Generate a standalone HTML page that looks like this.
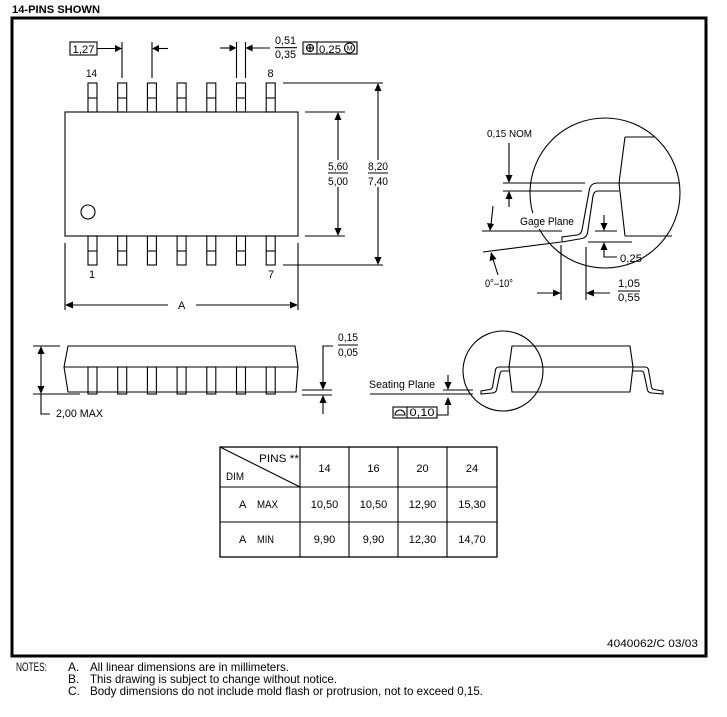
<!DOCTYPE html>
<html><head><meta charset="utf-8"><style>
html,body{margin:0;padding:0;background:#fff;}
svg{display:block;}
text{font-family:"Liberation Sans",sans-serif;font-size:11px;fill:#000;}
</style></head><body>
<svg width="727" height="717" viewBox="0 0 727 717" xmlns="http://www.w3.org/2000/svg">
<rect width="727" height="717" fill="#fff"/>
<text x="12" y="13" style="font-weight:bold" textLength="88" lengthAdjust="spacingAndGlyphs">14-PINS SHOWN</text>
<rect x="12" y="18" width="694" height="638" fill="none" stroke="#000" stroke-width="3"/>

<g fill="none" stroke="#000" stroke-width="1.1">
<!-- top view body -->
<rect x="65" y="112" width="233" height="124"/>
<circle cx="88" cy="212" r="7"/>
<!-- top pins -->
<rect x="88" y="83" width="9" height="29"/><line x1="88" y1="98" x2="97" y2="98"/>
<rect x="117.7" y="83" width="9" height="29"/><line x1="117.7" y1="98" x2="126.7" y2="98"/>
<rect x="147.4" y="83" width="9" height="29"/><line x1="147.4" y1="98" x2="156.4" y2="98"/>
<rect x="177.1" y="83" width="9" height="29"/><line x1="177.1" y1="98" x2="186.1" y2="98"/>
<rect x="206.8" y="83" width="9" height="29"/><line x1="206.8" y1="98" x2="215.8" y2="98"/>
<rect x="236.5" y="83" width="9" height="29"/><line x1="236.5" y1="98" x2="245.5" y2="98"/>
<rect x="266.2" y="83" width="9" height="29"/><line x1="266.2" y1="98" x2="275.2" y2="98"/>
<!-- bottom pins -->
<rect x="88" y="236" width="9" height="29"/><line x1="88" y1="251" x2="97" y2="251"/>
<rect x="117.7" y="236" width="9" height="29"/><line x1="117.7" y1="251" x2="126.7" y2="251"/>
<rect x="147.4" y="236" width="9" height="29"/><line x1="147.4" y1="251" x2="156.4" y2="251"/>
<rect x="177.1" y="236" width="9" height="29"/><line x1="177.1" y1="251" x2="186.1" y2="251"/>
<rect x="206.8" y="236" width="9" height="29"/><line x1="206.8" y1="251" x2="215.8" y2="251"/>
<rect x="236.5" y="236" width="9" height="29"/><line x1="236.5" y1="251" x2="245.5" y2="251"/>
<rect x="266.2" y="236" width="9" height="29"/><line x1="266.2" y1="251" x2="275.2" y2="251"/>

<!-- 1,27 dim -->
<rect x="70" y="42" width="27" height="13"/>
<line x1="97" y1="48.5" x2="116" y2="48.5"/>
<line x1="122" y1="42" x2="122" y2="78"/>
<line x1="152" y1="42" x2="152" y2="78"/>
<line x1="158" y1="48.5" x2="168" y2="48.5"/>
<!-- pin width dim -->
<line x1="236.5" y1="42" x2="236.5" y2="78"/>
<line x1="245.5" y1="42" x2="245.5" y2="78"/>
<line x1="220" y1="48" x2="231" y2="48"/>
<line x1="251" y1="48" x2="270" y2="48"/>
<line x1="275" y1="47.7" x2="297" y2="47.7"/>
<!-- position tolerance box -->
<rect x="303" y="42" width="54" height="12"/>
<line x1="317" y1="42" x2="317" y2="54"/>
<circle cx="310" cy="48" r="3.5"/>
<line x1="306" y1="48" x2="314" y2="48"/><line x1="310" y1="44" x2="310" y2="52"/>
<circle cx="349.5" cy="48" r="5"/>

<!-- right dims top view -->
<line x1="305" y1="112" x2="345" y2="112"/>
<line x1="305" y1="236" x2="345" y2="236"/>
<line x1="338" y1="118" x2="338" y2="160"/>
<line x1="338" y1="187" x2="338" y2="230"/>
<line x1="328" y1="173" x2="348" y2="173"/>
<line x1="283" y1="83" x2="383" y2="83"/>
<line x1="283" y1="265" x2="383" y2="265"/>
<line x1="378" y1="89" x2="378" y2="160"/>
<line x1="378" y1="187" x2="378" y2="259"/>
<line x1="368" y1="173" x2="388" y2="173"/>
<!-- A dim -->
<line x1="65" y1="243" x2="65" y2="310"/>
<line x1="298" y1="243" x2="298" y2="310"/>
<line x1="71" y1="305" x2="168" y2="305"/>
<line x1="196" y1="305" x2="292" y2="305"/>

<!-- gage detail -->
<circle cx="605" cy="193" r="75"/>
<line x1="625" y1="137" x2="654" y2="137"/>
<polyline points="625,137 619,183 625,236"/>
<line x1="625" y1="236" x2="672" y2="236"/>
<line x1="598" y1="183" x2="679" y2="183"/>
<path d="M598,183 Q591,183 589.5,189 L582,230 Q581,234.5 577,235 L562,237 L562,242 L582,238.5 Q586.5,237.5 587.5,233 L593,196 Q594,191 598,191 L619,191"/>
<line x1="503" y1="183" x2="585" y2="183"/>
<line x1="503" y1="191" x2="582" y2="191"/>
<line x1="509" y1="143" x2="509" y2="177"/>
<line x1="509" y1="197" x2="509" y2="207"/>
<line x1="482" y1="231" x2="562" y2="231"/>
<line x1="493" y1="206" x2="491" y2="225"/>
<line x1="483" y1="252" x2="561" y2="242"/>
<line x1="498" y1="275" x2="493" y2="259"/>
<line x1="595" y1="231" x2="617" y2="231"/>
<line x1="588" y1="242" x2="632" y2="242"/>
<line x1="604" y1="215" x2="604" y2="225"/>
<polyline points="604,248 604,257 617,257"/>
<line x1="561" y1="245" x2="561" y2="300"/>
<line x1="586" y1="247" x2="586" y2="300"/>
<line x1="537" y1="293" x2="555" y2="293"/>
<line x1="592" y1="293" x2="610" y2="293"/>
<line x1="618" y1="291" x2="640" y2="291"/>

<!-- side view left -->
<path d="M68,346 L295,346 L298,367 L296,392 L68,392 L64,367 Z"/>
<line x1="64" y1="367" x2="298" y2="367"/>
<rect x="88" y="367" width="9" height="27"/>
<rect x="117.7" y="367" width="9" height="27"/>
<rect x="147.4" y="367" width="9" height="27"/>
<rect x="177.1" y="367" width="9" height="27"/>
<rect x="206.8" y="367" width="9" height="27"/>
<rect x="236.5" y="367" width="9" height="27"/>
<rect x="266.2" y="367" width="9" height="27"/>
<line x1="33" y1="346" x2="60" y2="346"/>
<line x1="33" y1="394" x2="80" y2="394"/>
<line x1="41" y1="352" x2="41" y2="388"/>
<polyline points="41,394 41,414 50,414"/>
<line x1="302" y1="390" x2="332" y2="390"/>
<line x1="302" y1="395" x2="332" y2="395"/>
<polyline points="333,346 323,346 323,384"/>
<line x1="323" y1="401" x2="323" y2="414"/>
<line x1="338" y1="345" x2="358" y2="345"/>

<!-- side view right -->
<circle cx="503" cy="371" r="40"/>
<path d="M512,346 L630,346 L633,367 L630,392 L512,392 L509,367 Z"/>
<line x1="509" y1="367" x2="633" y2="367"/>
<path d="M509,367 L499,367 Q496,367 495.5,370 L492.5,387 Q492,389 490,389.5 L481,391 L481,394 L492,393 Q496,392.5 496.5,390 L500,373.5 Q500.5,371 503,371 L509,371"/>
<path d="M633,367 L645,367 Q648,367 648.5,370 L651.5,387 Q652,389 654,389.5 L663,391 L663,394 L652,393 Q648,392.5 647.5,390 L644,373.5 Q643.5,371 641,371 L633,371"/>
<line x1="370" y1="394" x2="473" y2="394"/>
<line x1="443" y1="390" x2="473" y2="390"/>
<line x1="448" y1="375" x2="448" y2="384"/>
<polyline points="448,404 448,415 437,415"/>
<rect x="393" y="407" width="44" height="11"/>
<line x1="407" y1="407" x2="407" y2="418"/>
<path d="M395,415 A5,5 0 0 1 405,415 Z"/>

<!-- table -->
<rect x="220" y="447" width="277" height="110" stroke-width="1.3"/>
<line x1="220" y1="487" x2="497" y2="487"/>
<line x1="220" y1="522" x2="497" y2="522"/>
<line x1="300" y1="447" x2="300" y2="557"/>
<line x1="349" y1="447" x2="349" y2="557"/>
<line x1="398" y1="447" x2="398" y2="557"/>
<line x1="447" y1="447" x2="447" y2="557"/>
<line x1="220" y1="447" x2="300" y2="487"/>
</g>

<!-- mask behind Gage Plane label -->
<rect x="518" y="213" width="58" height="16" fill="#fff"/>

<!-- arrowheads -->
<g fill="#000" stroke="none">
<polygon points="115,45 115,52 122,48.5"/>
<polygon points="159,45 159,52 152,48.5"/>
<polygon points="229.5,44.5 229.5,51.5 236.5,48"/>
<polygon points="252.5,44.5 252.5,51.5 245.5,48"/>
<polygon points="334.5,120 341.5,120 338,112"/>
<polygon points="334.5,228 341.5,228 338,236"/>
<polygon points="374.5,91 381.5,91 378,83"/>
<polygon points="374.5,257 381.5,257 378,265"/>
<polygon points="73,301.5 73,308.5 65,305"/>
<polygon points="290,301.5 290,308.5 298,305"/>
<!-- gage -->
<polygon points="505.5,175 512.5,175 509,183"/>
<polygon points="505.5,199 512.5,199 509,191"/>
<polygon points="487,223 494,224 490,231"/>
<polygon points="489.5,261 496.5,259 491,252"/>
<polygon points="600.5,223 607.5,223 604,231"/>
<polygon points="600.5,250 607.5,250 604,242"/>
<polygon points="553,289.5 553,296.5 561,293"/>
<polygon points="594,289.5 594,296.5 586,293"/>
<!-- side left -->
<polygon points="37.5,354 44.5,354 41,346"/>
<polygon points="37.5,386 44.5,386 41,394"/>
<polygon points="319.5,382 326.5,382 323,390"/>
<polygon points="319.5,403 326.5,403 323,395"/>
<!-- side right -->
<polygon points="444.5,382 451.5,382 448,390"/>
<polygon points="444.5,405 451.5,405 448,397"/>
</g>

<!-- text -->
<text x="72.5" y="53" textLength="22" lengthAdjust="spacingAndGlyphs">1,27</text>
<text x="275" y="44" textLength="21" lengthAdjust="spacingAndGlyphs">0,51</text>
<text x="275" y="58" textLength="21" lengthAdjust="spacingAndGlyphs">0,35</text>
<text x="319" y="53" textLength="22" lengthAdjust="spacingAndGlyphs">0,25</text>
<text x="349.5" y="50.5" text-anchor="middle" style="font-size:7px">M</text>
<text x="86" y="77" textLength="11" lengthAdjust="spacingAndGlyphs">14</text>
<text x="267.5" y="77">8</text>
<text x="89" y="278">1</text>
<text x="268" y="278">7</text>
<text x="328" y="170" textLength="20" lengthAdjust="spacingAndGlyphs">5,60</text>
<text x="328" y="185" textLength="20" lengthAdjust="spacingAndGlyphs">5,00</text>
<text x="368" y="170" textLength="20" lengthAdjust="spacingAndGlyphs">8,20</text>
<text x="368" y="185" textLength="20" lengthAdjust="spacingAndGlyphs">7,40</text>
<text x="178" y="309">A</text>

<text x="487" y="137" textLength="45" lengthAdjust="spacingAndGlyphs" style="font-size:10.5px">0,15 NOM</text>
<text x="520" y="225" textLength="54" lengthAdjust="spacingAndGlyphs">Gage Plane</text>
<text x="620" y="262" textLength="22" lengthAdjust="spacingAndGlyphs">0,25</text>
<text x="485" y="287" textLength="28" lengthAdjust="spacingAndGlyphs">0°–10°</text>
<text x="618" y="287" textLength="22" lengthAdjust="spacingAndGlyphs">1,05</text>
<text x="618" y="301" textLength="22" lengthAdjust="spacingAndGlyphs">0,55</text>

<text x="338" y="341" textLength="20" lengthAdjust="spacingAndGlyphs">0,15</text>
<text x="338" y="356" textLength="20" lengthAdjust="spacingAndGlyphs">0,05</text>
<text x="56" y="417" textLength="47" lengthAdjust="spacingAndGlyphs">2,00 MAX</text>
<text x="369" y="388" textLength="66" lengthAdjust="spacingAndGlyphs">Seating Plane</text>
<text x="409.5" y="416" textLength="25" lengthAdjust="spacingAndGlyphs">0,10</text>

<text x="259" y="462" textLength="40" lengthAdjust="spacingAndGlyphs">PINS **</text>
<text x="226" y="480" textLength="18" lengthAdjust="spacingAndGlyphs">DIM</text>
<text x="324.5" y="472" text-anchor="middle">14</text>
<text x="373.5" y="472" text-anchor="middle">16</text>
<text x="422.5" y="472" text-anchor="middle">20</text>
<text x="472" y="472" text-anchor="middle">24</text>
<text x="239" y="508">A</text>
<text x="257" y="508" textLength="21" lengthAdjust="spacingAndGlyphs">MAX</text>
<text x="324.5" y="508" text-anchor="middle">10,50</text>
<text x="373.5" y="508" text-anchor="middle">10,50</text>
<text x="422.5" y="508" text-anchor="middle">12,90</text>
<text x="472" y="508" text-anchor="middle">15,30</text>
<text x="239" y="543">A</text>
<text x="257" y="543" textLength="17" lengthAdjust="spacingAndGlyphs">MIN</text>
<text x="324.5" y="543" text-anchor="middle">9,90</text>
<text x="373.5" y="543" text-anchor="middle">9,90</text>
<text x="422.5" y="543" text-anchor="middle">12,30</text>
<text x="472" y="543" text-anchor="middle">14,70</text>

<text x="607" y="647" textLength="91" lengthAdjust="spacingAndGlyphs">4040062/C 03/03</text>

<g style="font-size:12px">
<text x="16" y="671" textLength="31" lengthAdjust="spacingAndGlyphs" style="font-size:12px">NOTES:</text>
<text x="68" y="671" style="font-size:12px">A.</text>
<text x="90" y="671" textLength="199" lengthAdjust="spacingAndGlyphs" style="font-size:12px">All linear dimensions are in millimeters.</text>
<text x="68" y="683" style="font-size:12px">B.</text>
<text x="90" y="683" textLength="247" lengthAdjust="spacingAndGlyphs" style="font-size:12px">This drawing is subject to change without notice.</text>
<text x="68" y="695" style="font-size:12px">C.</text>
<text x="90" y="695" textLength="393" lengthAdjust="spacingAndGlyphs" style="font-size:12px">Body dimensions do not include mold flash or protrusion, not to exceed 0,15.</text>
</g>
</svg>
</body></html>
